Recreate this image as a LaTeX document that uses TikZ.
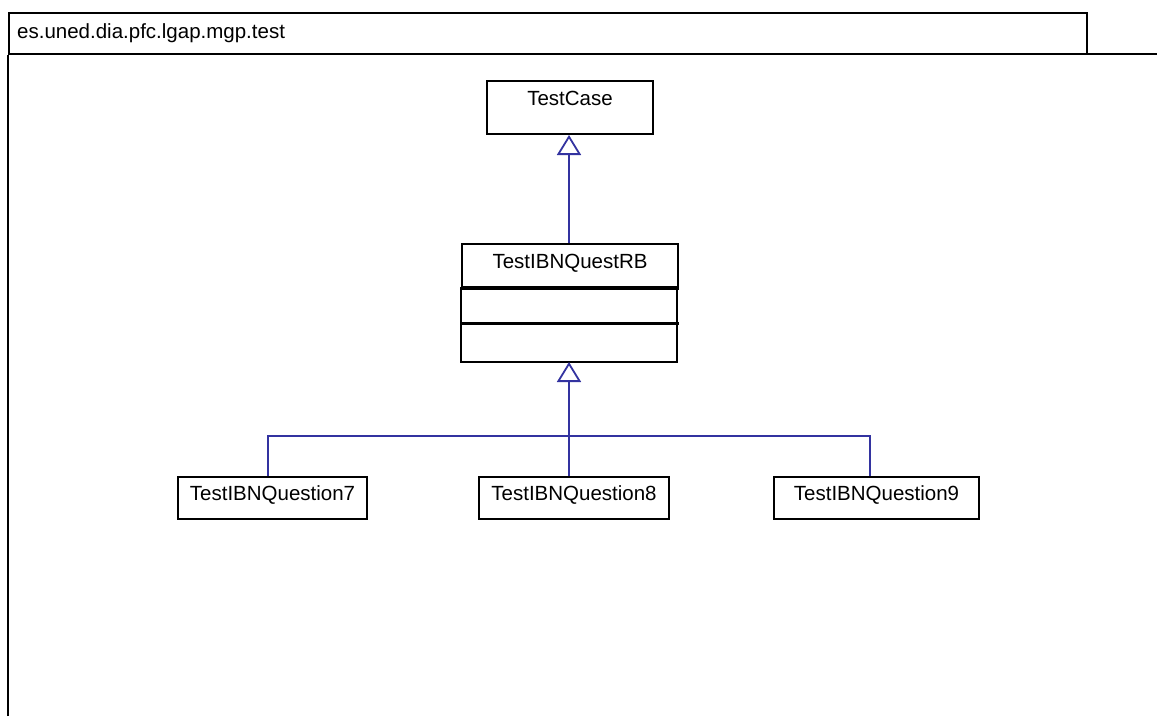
\documentclass[tikz,border=0pt]{standalone}
\usepackage{fontspec}
\setmainfont{Liberation Sans}
\usetikzlibrary{arrows.meta}

\definecolor{umlblue}{RGB}{51,51,160}

\tikzset{
  cls/.style={draw, line width=2pt, inner sep=0pt, text height=15pt, text depth=10pt,
    font=\fontsize{20.5}{24}\selectfont},
  sep/.style={line width=3pt},
  inherit/.style={draw=umlblue, line width=1.8pt},
  gen/.style={inherit, -{Triangle[open, width=24pt, length=20pt]}}
}

\begin{document}
\begin{tikzpicture}[x=1pt,y=-1pt]
\useasboundingbox (0,0) rectangle (1157,716);

% package frame
\node[draw, line width=2pt, inner sep=0pt, minimum width=1078pt, minimum height=41pt, anchor=north west] (tab) at (8,12) {};
\node[anchor=base west, inner sep=0pt, font=\fontsize{20.5}{24}\selectfont] (pkgname) at ([xshift=9pt,yshift=-4.5pt]tab.west) {es.uned.dia.pfc.lgap.mgp.test};
\draw[line width=2pt] (8,716) -- (tab.south west);
\draw[line width=1.5pt] ([yshift=1.2pt]tab.south east) -- ++(80,0);

% classes
\node[cls, minimum width=166pt, minimum height=53pt, text depth=20pt] (tc) at (570,107.5) {TestCase};
\node[cls, minimum width=216pt, minimum height=43pt] (rb) at (570,265.5) {TestIBNQuestRB};
\draw[line width=2pt] (rb.south west) rectangle ++(216,74);
\draw[sep] (rb.south west) -- (rb.south east);
\draw[sep] ([yshift=-35pt]rb.south west) -- ([yshift=-35pt]rb.south east);
\coordinate (rbend) at ([yshift=-74pt]rb.south);

\node[cls, minimum width=189pt, minimum height=42pt] (q7) at (272.5,498) {TestIBNQuestion7};
\node[cls, minimum width=190pt, minimum height=42pt] (q8) at (574,498) {TestIBNQuestion8};
\node[cls, minimum width=205pt, minimum height=42pt] (q9) at (876.5,498) {TestIBNQuestion9};

% generalizations
\coordinate (join) at (569,436);
\draw[gen] (rb.north -| join) -- (tc.south -| join);
\draw[inherit] ([xshift=-4.5pt]q7.north) |- (join) -| ([xshift=-6.5pt]q9.north);
\draw[gen] (q8.north -| join) -- (rbend -| join);
\end{tikzpicture}
\end{document}
